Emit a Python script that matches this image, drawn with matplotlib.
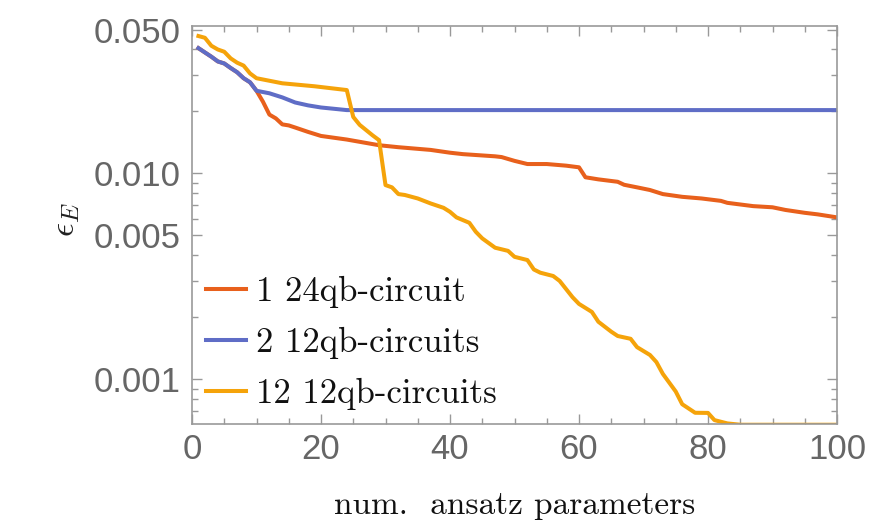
import matplotlib
matplotlib.use("Agg")
import matplotlib.pyplot as plt
from matplotlib.ticker import FixedLocator, FixedFormatter, NullFormatter
from matplotlib.font_manager import FontProperties

plt.rcParams['mathtext.fontset'] = 'cm'

# ---- data ----
blue_x = [1, 2, 3, 4, 5, 6, 7, 8, 9, 10, 12, 14, 16, 18, 20, 22, 24, 25, 100]
blue_y = [0.0406, 0.0387, 0.0369, 0.0350, 0.0342, 0.0325, 0.0310, 0.0290, 0.0277, 0.0252,
          0.0245, 0.0234, 0.0221, 0.0214, 0.0209, 0.0206, 0.0203, 0.0203, 0.0203]

red_x = [1, 2, 3, 4, 5, 6, 7, 8, 9, 10, 11, 12, 13, 14, 15, 16, 18, 20, 24, 29, 32, 37, 40, 42,
         47, 48, 50, 52, 55, 58, 60, 61, 63, 66, 67, 69, 71, 73, 76, 79, 82, 83, 87, 90, 92,
         95, 97, 100]
red_y = [0.0406, 0.0387, 0.0369, 0.0350, 0.0342, 0.0325, 0.0310, 0.0290, 0.0277, 0.0252,
         0.0223, 0.0193, 0.0185, 0.0173, 0.0171, 0.0167, 0.0159, 0.0152, 0.0146, 0.0137,
         0.0134, 0.0130, 0.0126, 0.0124, 0.0121, 0.0120, 0.0115, 0.0111, 0.0111, 0.0109,
         0.0107, 0.00957, 0.00935, 0.00910, 0.00880, 0.00855, 0.00830, 0.00793, 0.00769,
         0.00755, 0.00735, 0.00719, 0.00693, 0.00684, 0.00664, 0.00643, 0.00632, 0.00611]

orange_x = [1, 2, 3, 4, 5, 6, 7, 8, 9, 10, 14, 19, 24, 25, 26, 28, 29, 30, 31, 32, 33, 35, 37,
            39, 40, 41, 43, 44, 45, 47, 49, 50, 52, 53, 54, 56, 57, 59, 60, 62, 63, 65, 66, 68,
            69, 71, 72, 73, 75, 76, 78, 80, 81, 83, 85, 100]
orange_y = [0.0465, 0.0456, 0.0417, 0.0400, 0.0390, 0.0362, 0.0345, 0.0334, 0.0306, 0.0290,
            0.0274, 0.0265, 0.0254, 0.0188, 0.0172, 0.0153, 0.0145, 0.00877, 0.00855, 0.00793,
            0.00785, 0.00755, 0.00714, 0.00680, 0.00650, 0.00611, 0.00575, 0.00520, 0.00483,
            0.00435, 0.00420, 0.00393, 0.00379, 0.00341, 0.00329, 0.00317, 0.00300, 0.00250,
            0.00232, 0.00212, 0.00190, 0.00170, 0.00162, 0.00157, 0.00143, 0.00131, 0.00121,
            0.00106, 0.000870, 0.000755, 0.000686, 0.000685, 0.000632, 0.000609, 0.000600,
            0.000600]

labels = ["1 24qb-circuit", "2 12qb-circuits", "12 12qb-circuits"]
colors = ["#E8601C", "#5F6DC6", "#F5A30A"]

x_ticks = [0, 20, 40, 60, 80, 100]
y_ticks = [0.05, 0.01, 0.005, 0.001]
y_tick_labels = ["0.050", "0.010", "0.005", "0.001"]
y_minor = [0.04, 0.03, 0.02, 0.009, 0.008, 0.007, 0.006, 0.004, 0.003, 0.002,
           0.0009, 0.0008, 0.0007]

# ---- figure ----
fig = plt.figure(figsize=(8.86, 5.24), dpi=100)
ax = fig.add_axes([192/886, 1 - 424.3/524, (837-192)/886, (424.3-25.7)/524])

lw = 2.9
ax.plot(red_x, red_y, color=colors[0], lw=lw, label=labels[0], solid_joinstyle='round')
ax.plot(blue_x, blue_y, color=colors[1], lw=lw, label=labels[1], solid_joinstyle='round')
ax.plot(orange_x, orange_y, color=colors[2], lw=lw, label=labels[2], solid_joinstyle='round')

ax.set_yscale('log')
ax.set_xlim(0, 100)
ax.set_ylim(0.000603, 0.0522)

gray = '#999999'
tcol = '#666666'
for s in ax.spines.values():
    s.set_color(gray)
    s.set_linewidth(1.2)

ax.xaxis.set_major_locator(FixedLocator(x_ticks))
ax.xaxis.set_minor_locator(FixedLocator([v for v in range(0, 101, 5) if v % 20]))
ax.yaxis.set_major_locator(FixedLocator(y_ticks))
ax.yaxis.set_major_formatter(FixedFormatter(y_tick_labels))
ax.yaxis.set_minor_locator(FixedLocator(y_minor))
ax.yaxis.set_minor_formatter(NullFormatter())

ax.tick_params(which='both', direction='in', top=True, right=True, color=gray, width=1.0,
               labelcolor=tcol, labelsize=25)
ax.tick_params(which='major', length=7)
ax.tick_params(which='minor', length=4)
ax.tick_params(axis='y', pad=8)
ax.tick_params(axis='x', pad=6)
for lab in ax.get_xticklabels() + ax.get_yticklabels():
    lab.set_fontfamily(['Liberation Sans', 'DejaVu Sans'])

ax.set_ylabel(r'$\epsilon_E$', fontsize=25, color='#222222')
ax.yaxis.set_label_coords(-0.197, 0.513)
ax.set_xlabel('num.  ansatz parameters', fontsize=24, fontfamily='cmr10', color='#111111')
ax.xaxis.set_label_coords(0.5, -0.2025)
ax.xaxis.label.set_va('center')
ax.yaxis.label.set_va('center')

leg = ax.legend(loc='lower left', bbox_to_anchor=(0.0, 0.0), frameon=False,
                prop=FontProperties(family='cmr10', size=25),
                handlelength=1.15, handletextpad=0.3, labelspacing=0.55,
                borderaxespad=0.3, borderpad=0.1)
for t in leg.get_texts():
    t.set_color('#111111')

fig.savefig('out.png', dpi=100)
